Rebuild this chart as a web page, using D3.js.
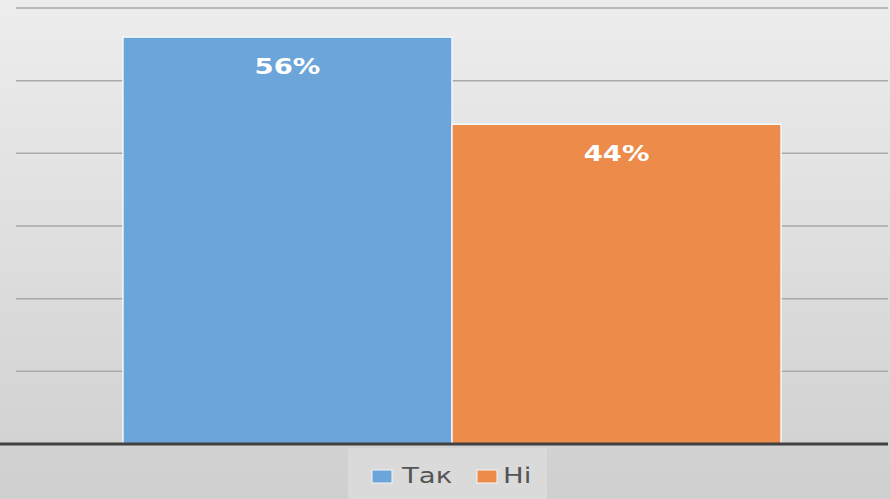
<!DOCTYPE html>
<html>
<head>
<meta charset="utf-8">
<script src="https://cdn.jsdelivr.net/npm/d3@7"></script>
<style>
  body { margin: 0; }
  svg { display: block; font-family: "DejaVu Sans", Verdana, sans-serif; }
</style>
</head>
<body>
<div id="chart"></div>
<script>
// data
let series = ["Так", "Ні"];
let values = [0.56, 0.44];
let colors = ["#6ca5d9", "#ec8b4a"];
let y_ticks = [0.1, 0.2, 0.3, 0.4, 0.5, 0.6];

let width = 890;
let height = 499;
let plot = {left: 16, right: 888, top: 8, bottom: 444};
let stretch = 1.25; // the picture is a bit wider than tall text would be

let f = d3.format(".0%");

let svg = d3.select("#chart")
            .append("svg")
            .attr("width", width)
            .attr("height", height);

// background gradient
let grad = svg.append("defs")
              .append("linearGradient")
              .attr("id", "bg")
              .attr("x1", 0).attr("y1", 0)
              .attr("x2", 0).attr("y2", 1);
grad.append("stop").attr("offset", "0%").attr("stop-color", "#ededed");
grad.append("stop").attr("offset", "100%").attr("stop-color", "#cfcfcf");

svg.append("rect")
   .attr("width", width)
   .attr("height", height)
   .attr("fill", "url(#bg)");

let x = d3.scaleBand()
          .domain(series)
          .range([plot.left, plot.right])
          .paddingInner(0)
          .paddingOuter(0.325);

let y = d3.scaleLinear()
          .domain([0, 0.6])
          .range([plot.bottom, plot.top]);

// gridlines
svg.append("g")
   .selectAll("line")
   .data(y_ticks)
   .join("line")
   .attr("x1", plot.left)
   .attr("x2", plot.right)
   .attr("y1", d => y(d))
   .attr("y2", d => y(d))
   .style("stroke", "#aaaaaa")
   .style("stroke-width", 1.5);

// bars
svg.append("g")
   .selectAll("rect")
   .data(series)
   .join("rect")
   .attr("x", d => x(d))
   .attr("y", (d, i) => y(values[i]))
   .attr("width", x.bandwidth())
   .attr("height", (d, i) => y(0) - y(values[i]))
   .style("fill", (d, i) => colors[i])
   .style("stroke", "#f4f8fc")
   .style("stroke-width", 1.5);

// value labels
svg.append("g")
   .selectAll("text")
   .data(series)
   .join("text")
   .attr("transform", (d, i) => "translate(" + (x(d) + x.bandwidth() / 2) + "," + (y(values[i]) + 37) + ") scale(" + stretch + ",1)")
   .attr("text-anchor", "middle")
   .style("fill", "#ffffff")
   .style("font-size", "22px")
   .style("font-weight", "bold")
   .text((d, i) => f(values[i]));

// x axis line
svg.append("line")
   .attr("x1", 0)
   .attr("x2", plot.right)
   .attr("y1", plot.bottom)
   .attr("y2", plot.bottom)
   .style("stroke", "#404040")
   .style("stroke-width", 3);

// legend
let legend = svg.append("g");

legend.append("rect")
      .attr("x", 348)
      .attr("y", 448)
      .attr("width", 199)
      .attr("height", 51)
      .style("fill", "#dadada");

let items = legend.selectAll(".legend")
                  .data(series)
                  .join("g")
                  .attr("class", "legend")
                  .attr("transform", (d, i) => "translate(" + (372 + i * 105) + ",470)");

items.append("rect")
     .attr("width", 20)
     .attr("height", 13)
     .style("fill", (d, i) => colors[i])
     .style("stroke", "#f4f4f4")
     .style("stroke-width", 1);

items.append("text")
     .attr("transform", (d, i) => "translate(" + (i === 0 ? 30 : 26) + ",13) scale(" + stretch + ",1)")
     .style("fill", "#555555")
     .style("font-size", "22px")
     .text(d => d);
</script>
</body>
</html>
